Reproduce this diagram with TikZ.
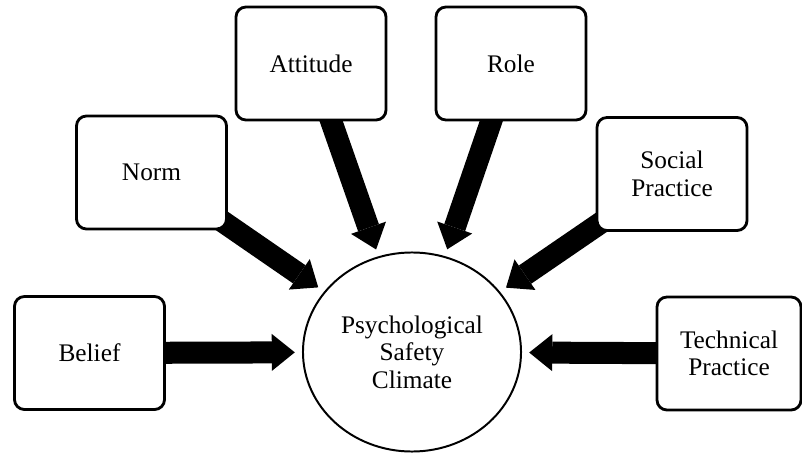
\documentclass[tikz,border=0pt]{standalone}
\usepackage{fontspec}
\setmainfont{Liberation Serif}
\usetikzlibrary{arrows.meta, shapes.geometric, backgrounds}

\begin{document}
\begin{tikzpicture}[x=0.025cm, y=-0.025cm]
\tikzset{facteur/.style={draw, line width=2pt, rounded corners=0.25cm, fill=white, minimum width=3.75cm, minimum height=2.825cm, align=center, font=\fontsize{18}{19.5}\selectfont}}
\tikzset{fleche/.style={line width=0.55cm, -{Triangle[width=0.925cm, length=0.575cm, line width=0pt]}, shorten >=0.18cm}}
\useasboundingbox (0, 0) rectangle (802, 453);
\node[draw, ellipse, line width=1.4pt, fill=white, inner sep=0pt, minimum width=5.45cm, minimum height=4.975cm, align=center, font=\fontsize{18}{19.5}\selectfont] (C) at (412, 352) {Psychological\\Safety\\Climate};
\node[facteur] (F1) at (89.5, 353) {Belief};
\node[facteur] (F2) at (151.5, 172.5) {Norm};
\node[facteur] (F3) at (311, 63.5) {Attitude};
\node[facteur] (F4) at (511, 63.5) {Role};
\node[facteur] (F5) at (672, 174) {Social\\Practice};
\node[facteur, minimum width=3.6cm] (F6) at (729, 353.5) {Technical\\Practice};
\begin{pgfonlayer}{background}
\draw[fleche] (F1.center) -- (C);
\draw[fleche] (F2.center) -- (C);
\draw[fleche] (F3.center) -- (C);
\draw[fleche] (F4.center) -- (C);
\draw[fleche] (F5.center) -- (C);
\draw[fleche] (F6.center) -- (C);
\end{pgfonlayer}
\end{tikzpicture}
\end{document}
